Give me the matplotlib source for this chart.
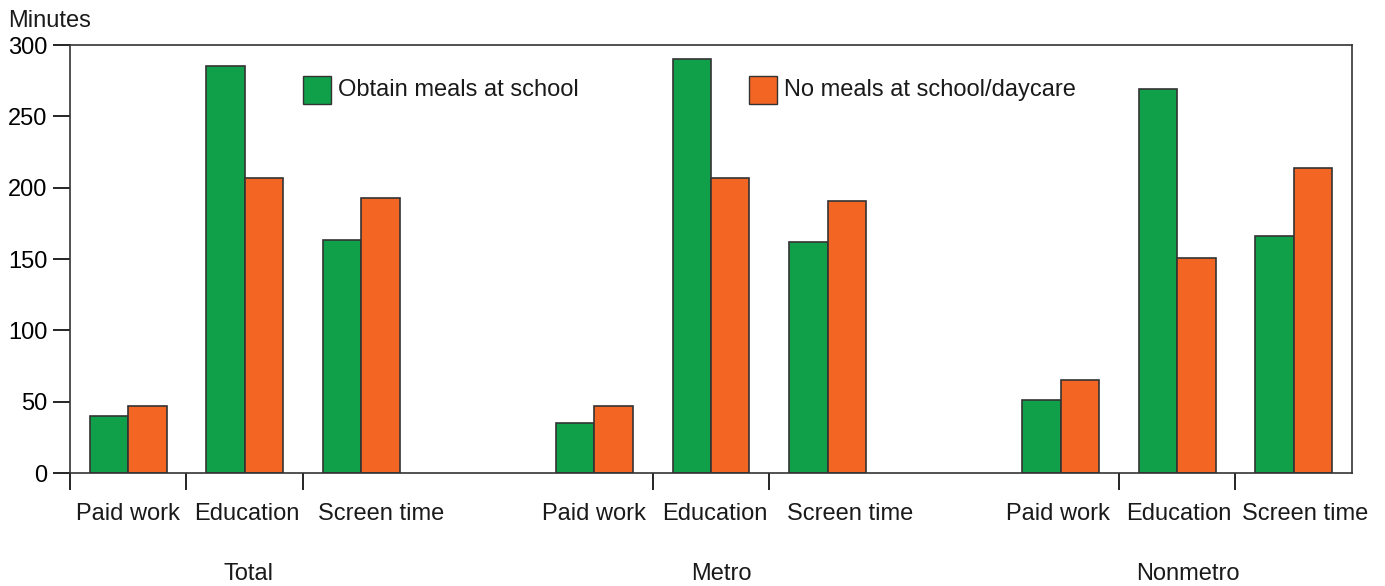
import matplotlib.pyplot as plt
import matplotlib.transforms as mtransforms
import numpy as np

plt.rcParams['font.family'] = ['Liberation Sans', 'DejaVu Sans']

groups = ['Total', 'Metro', 'Nonmetro']
categories = ['Paid work', 'Education', 'Screen time']
series = ['Obtain meals at school', 'No meals at school/daycare']
# minutes, per group: paid work, education, screen time
meals = [40, 285, 163, 35, 290, 162, 51, 269, 166]
no_meals = [47, 207, 193, 47, 207, 191, 65, 151, 214]

green = '#10a04a'
orange = '#f26522'
edge = '#333333'

# slot positions: 3 categories per group, one empty slot between groups
slots = np.array([g * 4 + c for g in range(3) for c in range(3)], dtype=float)
centers = slots + 0.5
w = 0.33

fig = plt.figure(figsize=(13.85, 5.86), dpi=100)
ax = fig.add_axes([0.0505, 0.1928, 0.9257, 0.7304])

ax.bar(centers - w / 2, meals, width=w, color=green, edgecolor=edge, linewidth=1.2, label=series[0])
ax.bar(centers + w / 2, no_meals, width=w, color=orange, edgecolor=edge, linewidth=1.2, label=series[1])

ax.set_xlim(0, 11)
ax.set_ylim(0, 300)
ax.set_yticks(np.arange(0, 301, 50))
ax.tick_params(axis='y', labelsize=17, length=12, width=1.2, direction='out', pad=4)
ax.set_xticks([0, 1, 2, 5, 6, 9, 10])
ax.set_xticklabels([])
ax.tick_params(axis='x', length=12, width=1.2, direction='out')
for s in ax.spines.values():
    s.set_color(edge)
    s.set_linewidth(1.2)

trans = mtransforms.blended_transform_factory(ax.transData, ax.transAxes)
label_x = [0.5, 1.52, 2.67, 4.5, 5.53, 6.69, 8.48, 9.51, 10.6]
for x, name in zip(label_x, categories * 3):
    ax.text(x, -0.095, name, transform=trans, ha='center', va='center', fontsize=17, color='#1a1a1a')
for x, name in zip([1.53, 5.59, 9.59], groups):
    ax.text(x, -0.237, name, transform=trans, ha='center', va='center', fontsize=17, color='#1a1a1a')

fig.text(0.006, 0.964, 'Minutes', fontsize=17, ha='left', va='center', color='#1a1a1a')

# legend entries placed inside the plot
for lx, color, name in [(2.0, green, series[0]), (5.83, orange, series[1])]:
    ax.add_patch(plt.Rectangle((lx, 259), 0.24, 19, facecolor=color, edgecolor=edge, linewidth=1.0))
    ax.text(lx + 0.3, 268.5, name, fontsize=17, va='center', ha='left', color='#1a1a1a')

fig.savefig('out.png', dpi=100)
